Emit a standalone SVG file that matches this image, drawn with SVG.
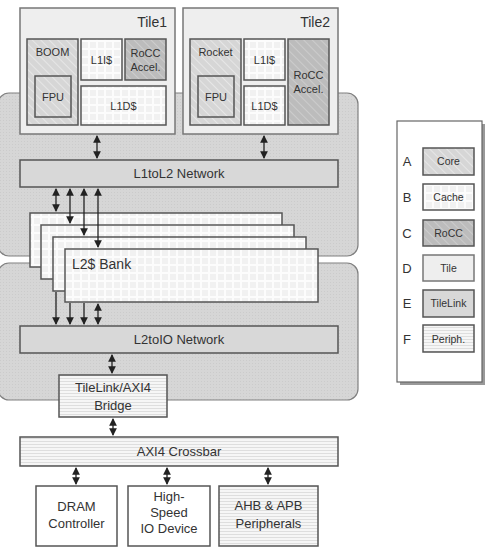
<svg xmlns="http://www.w3.org/2000/svg" width="493" height="547" viewBox="0 0 493 547">
<defs>
<pattern id="hatch" width="6" height="6" patternUnits="userSpaceOnUse" patternTransform="rotate(-45)">
<rect width="6" height="6" fill="#d6d6d6"/><line x1="0" y1="0" x2="0" y2="6" stroke="#e6e6e6" stroke-width="2"/>
</pattern>
<pattern id="hatchDark" width="6" height="6" patternUnits="userSpaceOnUse" patternTransform="rotate(-45)">
<rect width="6" height="6" fill="#bcbcbc"/><line x1="0" y1="0" x2="0" y2="6" stroke="#cccccc" stroke-width="2"/>
</pattern>
<pattern id="grid" width="8" height="8" patternUnits="userSpaceOnUse">
<rect width="8" height="8" fill="#f1f1f1"/><path d="M0 1H8M1 0V8" stroke="#fcfcfc" stroke-width="2" fill="none"/>
</pattern>
<pattern id="stripe" width="4" height="3" patternUnits="userSpaceOnUse">
<rect width="4" height="3" fill="#f6f6f6"/><line x1="0" y1="0.5" x2="4" y2="0.5" stroke="#dedede"/>
</pattern>
<pattern id="dots" width="3" height="3" patternUnits="userSpaceOnUse">
<rect width="3" height="3" fill="#d6d6d6"/><rect width="1" height="1" fill="#cbcbcb"/>
</pattern>
<marker id="ah" viewBox="0 0 8 8" refX="7" refY="4" markerWidth="6" markerHeight="6" orient="auto-start-reverse">
<path d="M0,0 L8,4 L0,8 z" fill="#222"/>
</marker>
</defs>
<style>
text{font-family:"Liberation Sans",Arial,sans-serif;fill:#333;}
.lbl{font-size:13px;text-anchor:middle;}
.sm{font-size:11px;text-anchor:middle;}
.lg{font-size:10.5px;text-anchor:middle;}
.let{font-size:13px;text-anchor:middle;}
.region{fill:url(#dots);stroke:#808080;stroke-width:1.2;}
.tile{fill:#eeeeee;stroke:#777;stroke-width:1.5;}
.core{fill:url(#hatch);stroke:#555;stroke-width:1.5;}
.rocc{fill:url(#hatchDark);stroke:#555;stroke-width:1.5;}
.cache{fill:url(#grid);stroke:#555;stroke-width:1.5;}
.tl{fill:#d8d8d8;stroke:#555;stroke-width:1.5;}
.periph{fill:url(#stripe);stroke:#555;stroke-width:1.5;}
.plain{fill:#ffffff;stroke:#555;stroke-width:1.5;}
.conn line{stroke:#222;stroke-width:1.3;}
.bi{marker-start:url(#ah);marker-end:url(#ah);}
.dn{marker-end:url(#ah);}
</style>

<g id="regions">
<rect class="region" x="-2" y="93" width="360" height="163" rx="11"/>
<rect class="region" x="-2" y="263" width="360" height="137" rx="11"/>
</g>

<g id="tile1">
<rect class="tile" x="20" y="8" width="155" height="126"/>
<text x="167" y="27" style="font-size:14px;text-anchor:end;">Tile1</text>
<rect class="core" x="27" y="39" width="51" height="86"/>
<text class="sm" x="52.5" y="56">BOOM</text>
<rect class="core" x="35" y="76" width="36" height="41"/>
<text class="sm" x="53" y="101">FPU</text>
<rect class="cache" x="81" y="39" width="41" height="41"/>
<text class="sm" x="101.5" y="64">L1I$</text>
<rect class="rocc" x="125" y="39" width="41" height="41"/>
<text class="sm" x="145.5" y="57">RoCC</text>
<text class="sm" x="145.5" y="71">Accel.</text>
<rect class="cache" x="81" y="86" width="85" height="39"/>
<text class="sm" x="123.5" y="110">L1D$</text>
</g>

<g id="tile2">
<rect class="tile" x="183" y="8" width="155" height="126"/>
<text x="330" y="27" style="font-size:14px;text-anchor:end;">Tile2</text>
<rect class="core" x="190" y="39" width="51" height="86"/>
<text class="sm" x="215.5" y="56">Rocket</text>
<rect class="core" x="198" y="76" width="36" height="41"/>
<text class="sm" x="216" y="101">FPU</text>
<rect class="cache" x="244" y="39" width="41" height="41"/>
<text class="sm" x="264.5" y="64">L1I$</text>
<rect class="cache" x="244" y="86" width="41" height="39"/>
<text class="sm" x="264.5" y="110">L1D$</text>
<rect class="rocc" x="288" y="39" width="41" height="86"/>
<text class="sm" x="308.5" y="79">RoCC</text>
<text class="sm" x="308.5" y="93">Accel.</text>
</g>

<g id="l1tol2">
<rect class="tl" x="20" y="160" width="318" height="27"/>
<text class="lbl" x="179" y="178">L1toL2 Network</text>
</g>

<g id="l2banks">
<rect class="cache" x="30" y="213" width="252" height="54"/>
<rect class="cache" x="41" y="225" width="253" height="54"/>
<rect class="cache" x="53" y="237" width="253" height="54"/>
<rect class="cache" x="65" y="249" width="253" height="53"/>
<text x="72" y="269" style="font-size:14px;">L2$ Bank</text>
</g>

<g id="l2toio">
<rect class="tl" x="20" y="326" width="318" height="27"/>
<text class="lbl" x="179" y="344">L2toIO Network</text>
</g>

<g id="bridge">
<rect class="periph" x="59" y="375" width="108" height="42"/>
<text class="lbl" x="113" y="392">TileLink/AXI4</text>
<text class="lbl" x="113" y="410">Bridge</text>
</g>

<g id="crossbar">
<rect class="periph" x="20" y="437" width="318" height="29"/>
<text class="lbl" x="179" y="456">AXI4 Crossbar</text>
</g>

<g id="dram">
<rect class="plain" x="36" y="486" width="81" height="60"/>
<text class="lbl" x="76.5" y="511">DRAM</text>
<text class="lbl" x="76.5" y="528">Controller</text>
</g>

<g id="hsio">
<rect class="plain" x="128" y="486" width="82" height="60"/>
<text class="lbl" x="169" y="501">High-</text>
<text class="lbl" x="169" y="517">Speed</text>
<text class="lbl" x="169" y="533">IO Device</text>
</g>

<g id="periph">
<rect class="periph" x="219" y="486" width="99" height="60"/>
<text class="lbl" x="268.5" y="510">AHB &amp; APB</text>
<text class="lbl" x="268.5" y="528">Peripherals</text>
</g>

<g id="legend">
<rect x="400" y="124" width="85" height="261" fill="#999"/>
<rect x="397" y="121" width="85" height="261" fill="#ffffff" stroke="#666" stroke-width="1.2"/>
<text class="let" x="407" y="166">A</text>
<rect class="core" x="423" y="148" width="51" height="27"/>
<text class="lg" x="448.5" y="165">Core</text>
<text class="let" x="407" y="202">B</text>
<rect class="cache" x="423" y="184" width="51" height="26"/>
<text class="lg" x="448.5" y="201">Cache</text>
<text class="let" x="407" y="238">C</text>
<rect class="rocc" x="423" y="220" width="51" height="26"/>
<text class="lg" x="448.5" y="237">RoCC</text>
<text class="let" x="407" y="273">D</text>
<rect class="tile" x="423" y="255" width="51" height="26"/>
<text class="lg" x="448.5" y="272">Tile</text>
<text class="let" x="407" y="308">E</text>
<rect class="tl" x="423" y="290" width="51" height="27"/>
<text class="lg" x="448.5" y="307">TileLink</text>
<text class="let" x="407" y="344">F</text>
<rect class="periph" x="423" y="325" width="51" height="27"/>
<text class="lg" x="448.5" y="343">Periph.</text>
</g>

<g id="connectors" class="conn">
<line class="bi" x1="97" y1="136" x2="97" y2="158"/>
<line class="bi" x1="264" y1="136" x2="264" y2="158"/>
<line class="bi" x1="56" y1="189" x2="56" y2="211"/>
<line class="bi" x1="70" y1="189" x2="70" y2="223"/>
<line class="bi" x1="84" y1="189" x2="84" y2="235"/>
<line class="bi" x1="98" y1="189" x2="98" y2="247"/>
<line class="dn" x1="56" y1="292" x2="56" y2="324"/>
<line class="dn" x1="70" y1="303" x2="70" y2="324"/>
<line class="dn" x1="84" y1="303" x2="84" y2="324"/>
<line class="bi" x1="98" y1="304" x2="98" y2="324"/>
<line class="bi" x1="112" y1="355" x2="112" y2="373"/>
<line class="bi" x1="113" y1="419" x2="113" y2="435"/>
<line class="bi" x1="76" y1="468" x2="76" y2="484"/>
<line class="bi" x1="167" y1="468" x2="167" y2="484"/>
<line class="bi" x1="268" y1="468" x2="268" y2="484"/>
</g>
</svg>
